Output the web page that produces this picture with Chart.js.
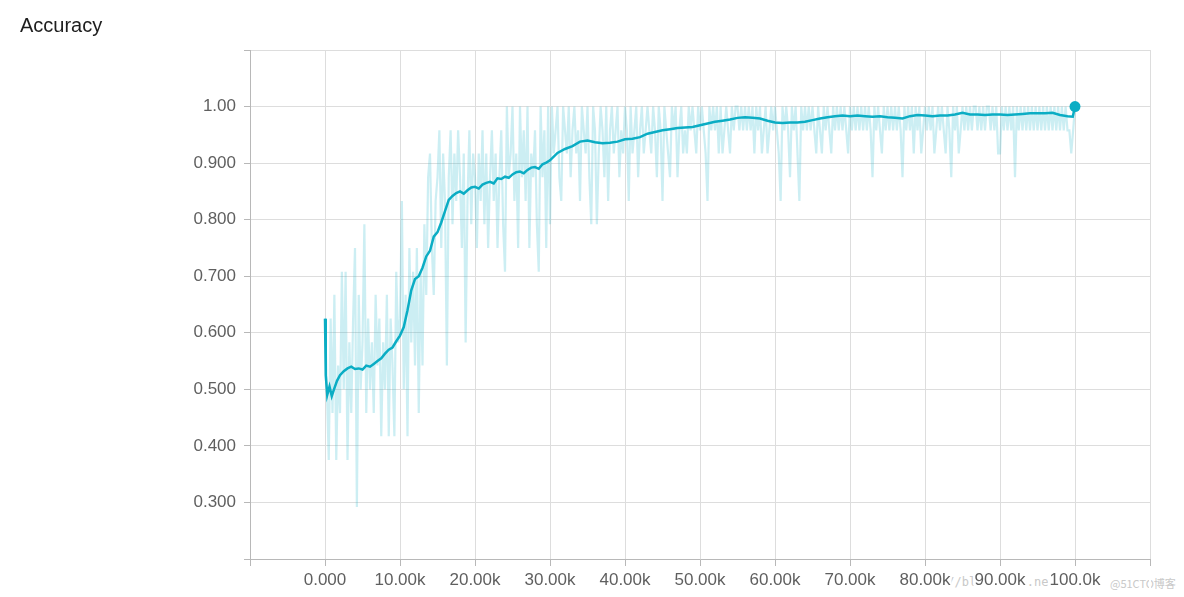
<!DOCTYPE html>
<html>
<head>
<meta charset="utf-8">
<script src="https://cdn.jsdelivr.net/npm/chart.js@4/dist/chart.umd.min.js"></script>
<style>
  html, body { margin: 0; padding: 0; background: #fff; }
  #wrap { position: relative; width: 1184px; height: 597px; overflow: hidden; }
  #title { position: absolute; left: 20px; top: 15px; font-family: "Liberation Sans", Arial, sans-serif; font-size: 20px; line-height: 20px; color: #1e1e1e; }
  .wm { position: absolute; font-family: "DejaVu Sans Mono", monospace; font-size: 12px; color: #c9c9c9; white-space: nowrap; }
  #wm1 { left: 904px; top: 575px; }
  #wm2 { left: 1110px; top: 575px; font-family: "Noto Sans CJK SC", "DejaVu Sans", sans-serif; font-size: 11px; }
  canvas { position: absolute; left: 0; top: 0; }
</style>
</head>
<body>
<div id="wrap">
  <div class="wm" id="wm1">https://blog.csdn.net/qq_</div>
  <div class="wm" id="wm2">@51CTO博客</div>
  <canvas id="c" width="1184" height="597"></canvas>
  <div id="title">Accuracy</div>
</div>
<script>
// ---- data ----
const rawStepInterval = 250; // raw accuracy logged every 250 steps
const rawValues = [
  0.625,0.500,0.375,0.625,0.458,0.667,0.375,0.542,0.458,0.708,0.500,0.708,0.375,0.583,0.458,0.625,0.750,0.292,0.667,0.500,
  0.583,0.792,0.458,0.625,0.500,0.583,0.458,0.667,0.542,0.625,0.417,0.583,0.500,0.667,0.417,0.625,0.542,0.417,0.708,0.583,
  0.625,0.833,0.500,0.667,0.417,0.750,0.583,0.708,0.542,0.750,0.458,0.708,0.542,0.792,0.667,0.875,0.917,0.750,0.667,0.833,
  0.875,0.958,0.750,0.917,0.833,0.542,0.875,0.958,0.792,0.917,0.833,0.958,0.875,0.750,0.917,0.583,0.833,0.958,0.792,0.917,
  0.875,0.750,0.917,0.833,0.958,0.792,0.917,0.750,0.875,0.958,0.833,0.917,0.750,0.875,0.958,0.792,0.708,1.000,0.875,0.917,
  1.000,0.833,0.917,0.750,1.000,0.875,0.958,0.833,1.000,0.750,0.917,0.875,0.958,0.792,0.708,1.000,0.875,0.958,0.750,1.000,
  0.792,1.000,0.917,0.958,1.000,0.875,0.833,1.000,0.958,0.917,1.000,0.875,0.958,1.000,0.917,0.958,0.833,1.000,0.958,0.917,
  1.000,0.875,0.792,1.000,0.958,0.792,0.917,1.000,0.958,0.875,1.000,0.833,0.958,1.000,0.917,0.958,1.000,0.875,0.958,0.917,
  1.000,0.958,0.833,1.000,0.917,0.958,1.000,0.875,0.958,1.000,0.917,0.958,1.000,0.958,0.917,1.000,0.958,0.875,1.000,0.958,
  0.833,1.000,0.958,0.917,0.875,1.000,0.958,1.000,0.875,0.958,1.000,0.917,0.958,0.917,1.000,0.958,1.000,0.958,0.917,1.000,
  0.958,1.000,0.958,0.917,0.833,1.000,0.958,1.000,0.958,1.000,0.917,1.000,0.917,0.958,1.000,0.958,0.917,1.000,0.958,1.000,
  1.000,0.958,1.000,0.958,1.000,0.958,1.000,0.958,1.000,0.917,1.000,0.958,1.000,0.917,0.958,1.000,0.917,0.958,1.000,0.958,
  1.000,0.958,0.917,0.833,1.000,0.958,1.000,0.958,0.875,1.000,0.958,1.000,0.917,0.833,1.000,0.958,1.000,0.958,1.000,0.958,
  1.000,0.958,0.917,1.000,0.958,0.917,1.000,0.958,1.000,0.958,0.917,1.000,0.958,1.000,0.958,1.000,0.958,1.000,0.958,0.917,
  1.000,0.958,1.000,0.958,1.000,0.958,1.000,0.958,1.000,0.958,1.000,0.958,0.875,1.000,0.958,1.000,0.958,0.917,1.000,0.958,
  1.000,0.958,1.000,0.958,1.000,0.958,1.000,0.958,0.875,1.000,0.958,1.000,0.958,1.000,0.917,1.000,0.958,1.000,0.917,0.958,
  1.000,0.958,1.000,0.958,1.000,0.917,0.958,1.000,0.958,1.000,0.958,0.917,1.000,0.958,0.875,1.000,0.958,1.000,0.917,0.958,
  1.000,0.958,1.000,0.958,1.000,0.958,1.000,1.000,0.958,1.000,0.958,1.000,0.958,1.000,1.000,0.958,1.000,0.958,1.000,0.917,
  0.917,1.000,0.958,1.000,0.958,1.000,0.958,1.000,0.875,1.000,0.958,1.000,0.958,1.000,0.958,1.000,0.958,1.000,0.958,1.000,
  0.958,1.000,0.958,1.000,0.958,1.000,0.958,1.000,0.958,1.000,0.958,1.000,0.958,1.000,0.958,1.000,0.958,0.958,0.917,0.958,
  1.000
];

const smoothStepsK = [
  0,0.1,0.3,0.6,0.9,1.2,1.6,2,2.5,3,3.5,4,4.5,5,5.5,6,6.5,7,7.5,8,8.5,9,9.5,
  10,10.5,11,11.5,12,12.5,13,13.5,14,14.5,15,15.5,16,16.5,17,17.5,18,18.5,19,19.5,
  20,20.5,21,21.5,22,22.5,23,23.5,24,24.5,25,25.5,26,26.5,27,27.5,28,28.5,29,29.5,
  30,31,32,33,34,35,36,37,38,39,
  40,41,42,43,44,45,46,47,48,49,50,51,52,53,54,55,56,57,58,59,
  60,61,62,63,64,65,66,67,68,69,70,71,72,73,74,75,76,77,78,79,
  80,81,82,83,84,85,86,87,88,89,90,91,92,93,94,95,96,97,98,99,99.7,100
];
const smoothValues = [
  0.625,0.525,0.490,0.505,0.488,0.500,0.515,0.525,0.532,0.537,0.540,0.536,0.537,0.535,0.542,0.540,0.545,0.550,0.555,0.563,0.570,0.574,0.585,
  0.595,0.610,0.640,0.675,0.695,0.700,0.715,0.735,0.745,0.770,0.778,0.795,0.815,0.835,0.842,0.847,0.850,0.846,0.852,0.857,
  0.858,0.855,0.862,0.865,0.867,0.864,0.873,0.872,0.876,0.874,0.880,0.884,0.885,0.882,0.888,0.892,0.893,0.890,0.898,0.901,
  0.905,0.918,0.925,0.930,0.938,0.940,0.937,0.935,0.936,0.938,
  0.942,0.943,0.946,0.952,0.955,0.958,0.960,0.962,0.963,0.964,0.967,0.970,0.973,0.975,0.977,0.980,0.981,0.980,0.979,0.975,
  0.972,0.971,0.972,0.972,0.973,0.976,0.979,0.981,0.983,0.984,0.983,0.984,0.983,0.982,0.983,0.981,0.980,0.979,0.983,0.985,
  0.984,0.983,0.984,0.984,0.986,0.989,0.986,0.986,0.985,0.986,0.986,0.985,0.986,0.987,0.988,0.988,0.988,0.989,0.985,0.983,0.982,1.000
];

const xTickValues = [-10000,0,10000,20000,30000,40000,50000,60000,70000,80000,90000,100000,110000];
const xTickLabels = ['','0.000','10.00k','20.00k','30.00k','40.00k','50.00k','60.00k','70.00k','80.00k','90.00k','100.0k',''];
const yTickValues = [0.2,0.3,0.4,0.5,0.6,0.7,0.8,0.9,1.0,1.1];
const yTickLabels = ['','0.300','0.400','0.500','0.600','0.700','0.800','0.900','1.00',''];

// ---- build datasets ----
const rawPoints = rawValues.map((v, i) => ({ x: i * rawStepInterval, y: v }));
const smoothPoints = smoothValues.map((v, i) => ({ x: smoothStepsK[i] * 1000, y: v }));
const lastIdx = smoothPoints.length - 1;

const TEAL = '#0badc4';
const tickFont = { family: '"Liberation Sans", Arial, sans-serif', size: 17 };

new Chart(document.getElementById('c'), {
  type: 'line',
  data: {
    datasets: [
      {
        data: smoothPoints,
        borderColor: TEAL,
        backgroundColor: TEAL,
        borderWidth: 2.5,
        tension: 0,
        pointRadius: (ctx) => ctx.dataIndex === lastIdx ? 5.5 : 0,
        pointBorderWidth: 0,
        order: 0
      },
      {
        data: rawPoints,
        borderColor: 'rgba(40,185,205,0.24)',
        borderWidth: 2.2,
        tension: 0,
        pointRadius: 0,
        order: 1
      }
    ]
  },
  options: {
    responsive: false,
    animation: false,
    devicePixelRatio: 1,
    layout: { padding: { top: 50, right: 34, left: 0, bottom: 0 } },
    plugins: { legend: { display: false }, tooltip: { enabled: false } },
    scales: {
      x: {
        type: 'linear',
        min: -10000,
        max: 110000,
        afterBuildTicks: (s) => { s.ticks = xTickValues.map(v => ({ value: v })); },
        afterFit: (s) => { s.height = 38; },
        grid: { color: '#dddddd', tickColor: '#b8b8b8', tickLength: 7, lineWidth: 1 },
        border: { color: '#b8b8b8', width: 1 },
        ticks: {
          autoSkip: false,
          maxRotation: 0,
          padding: 4,
          color: '#5f5f5f',
          font: tickFont,
          showLabelBackdrop: true,
          backdropColor: '#ffffff',
          backdropPadding: { x: 1, y: 0 },
          callback: (v, i) => xTickLabels[i]
        }
      },
      y: {
        type: 'linear',
        min: 0.2,
        max: 1.1,
        afterBuildTicks: (s) => { s.ticks = yTickValues.map(v => ({ value: v })); },
        afterFit: (s) => { s.width = 250; },
        grid: { color: '#dddddd', tickColor: '#b8b8b8', tickLength: 6, lineWidth: 1 },
        border: { color: '#b8b8b8', width: 1 },
        ticks: {
          autoSkip: false,
          padding: 8,
          color: '#5f5f5f',
          font: tickFont,
          callback: (v, i) => yTickLabels[i]
        }
      }
    }
  }
});
</script>
</body>
</html>
